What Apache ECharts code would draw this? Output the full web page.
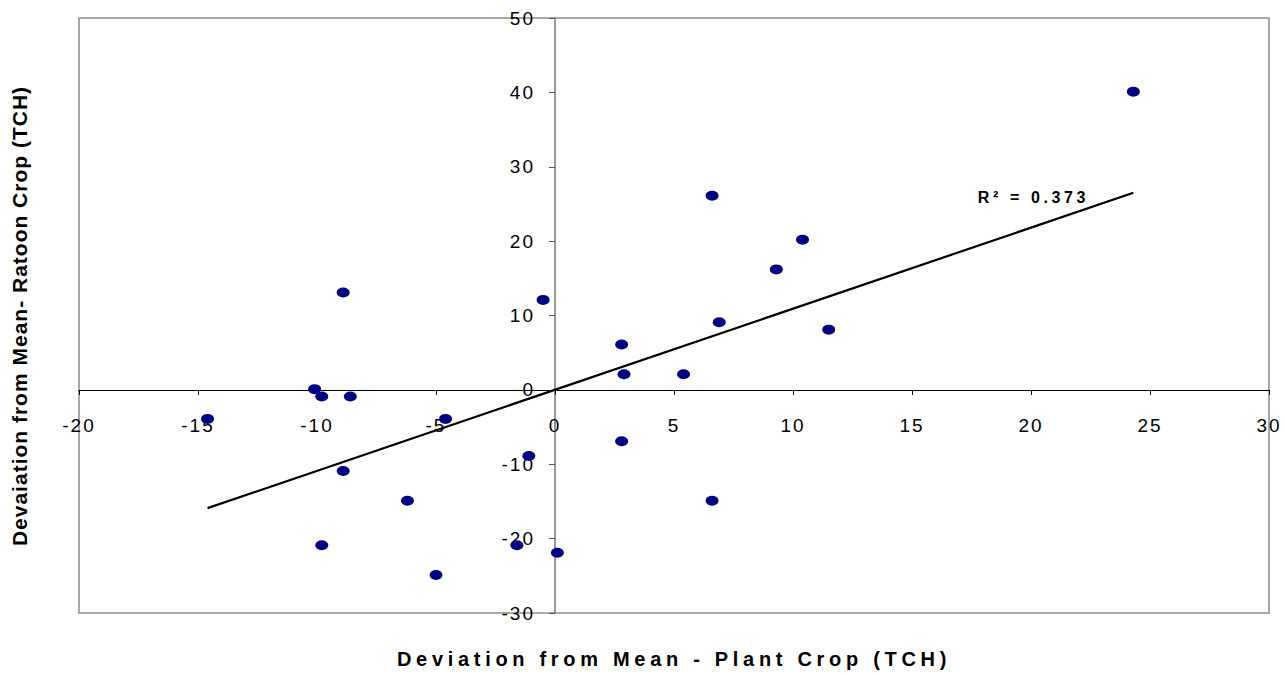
<!DOCTYPE html>
<html>
<head>
<meta charset="utf-8">
<script src="https://cdn.jsdelivr.net/npm/echarts@6/dist/echarts.min.js"></script>
<style>
    html, body { margin: 0; padding: 0; background: #fff; }
    #scatter_chart { width: 1284px; height: 673px; }
</style>
</head>
<body>
<div id="scatter_chart"></div>
<script>
// deviation from mean
var plantDev = [24.3, 6.6, 10.4, 9.3, 6.9, 11.5, -0.5, -8.9, 2.8, 2.9, 5.4, 2.8, 6.6,
    -10.1, -9.8, -8.6, -14.6, -4.6, -1.1, -8.9, -6.2, -9.8, -1.6, 0.1, -5.0];
var ratoonDev = [40.1, 26.1, 20.2, 16.2, 9.1, 8.1, 12.1, 13.1, 6.1, 2.1, 2.1, -6.9, -14.9,
    0.1, -0.9, -0.9, -3.9, -3.9, -8.9, -10.9, -14.9, -20.9, -20.9, -21.9, -24.9];

// linear trend line end points
var trendX = [-14.6, 24.3];
var trendY = [-15.9, 26.5];
var rSquared = '0.373';

var xRange = [-20, 30];
var yRange = [-30, 50];

var xTitle = 'Deviation from Mean - Plant Crop (TCH)';
var yTitle = 'Devaiation from Mean- Ratoon Crop (TCH)';
var rLabel = 'R\u00b2 = ' + rSquared;

var font = 'Liberation Sans';

var points = [];
for (var i = 0; i < plantDev.length; i++) {
    points.push([plantDev[i], ratoonDev[i]]);
}
var trend = [];
for (var j = 0; j < trendX.length; j++) {
    trend.push([trendX[j], trendY[j]]);
}

var grid = {left: 79, right: 15, top: 18, bottom: 60};
var plotW = 1284 - grid.left - grid.right;
var plotH = 673 - grid.top - grid.bottom;
// axes cross at zero, move the axes (and their labels) in from the grid edge
var xAxisOffset = -plotH * (0 - yRange[0]) / (yRange[1] - yRange[0]);
var yAxisOffset = -plotW * (0 - xRange[0]) / (xRange[1] - xRange[0]);

var chart = echarts.init(document.getElementById('scatter_chart'), null, {renderer: 'svg'});

var options = {
    animation: false,
    backgroundColor: '#fff',
    grid: {
        left: grid.left,
        right: grid.right,
        top: grid.top,
        bottom: grid.bottom,
        show: true,
        borderColor: '#8c8c8c',
        borderWidth: 1.5
    },
    xAxis: {
        type: 'value',
        min: xRange[0],
        max: xRange[1],
        interval: 5,
        position: 'bottom',
        offset: xAxisOffset,
        axisLine: {show: true, onZero: false, lineStyle: {color: '#000', width: 1.2}},
        axisTick: {show: true, length: 5, lineStyle: {color: '#000'}},
        axisLabel: {margin: 26, color: '#000', fontSize: 19, fontFamily: font},
        splitLine: {show: false}
    },
    yAxis: {
        type: 'value',
        min: yRange[0],
        max: yRange[1],
        interval: 10,
        position: 'left',
        offset: yAxisOffset,
        axisLine: {show: true, onZero: false, lineStyle: {color: '#777', width: 1.5}},
        axisTick: {show: true, length: 6, lineStyle: {color: '#555'}},
        axisLabel: {margin: 20, color: '#000', fontSize: 19, fontFamily: font},
        splitLine: {show: false}
    },
    graphic: [{
        type: 'text',
        x: 674,
        y: 659,
        style: {
            text: xTitle,
            fill: '#000',
            font: 'bold 20px "' + font + '"',
            textAlign: 'center',
            textVerticalAlign: 'middle'
        }
    }, {
        type: 'text',
        x: 19,
        y: 316,
        rotation: Math.PI / 2,
        style: {
            text: yTitle,
            fill: '#000',
            font: 'bold 21px "' + font + '"',
            textAlign: 'center',
            textVerticalAlign: 'middle'
        }
    }],
    series: [{
        type: 'scatter',
        data: points,
        symbol: 'path://M-1,0a1,1 0 1,0 2,0a1,1 0 1,0 -2,0',
        symbolSize: [13, 10],
        itemStyle: {color: '#000080', opacity: 1},
        z: 3
    }, {
        type: 'line',
        data: trend,
        symbol: 'none',
        silent: true,
        lineStyle: {color: '#000', width: 2.2},
        z: 2,
        markPoint: {
            symbol: 'circle',
            symbolSize: 0,
            data: [{coord: [20.1, 25.9]}],
            label: {
                show: true,
                position: 'inside',
                formatter: rLabel,
                fontSize: 16,
                fontWeight: 'bold',
                color: '#000',
                fontFamily: font
            }
        }
    }]
};

chart.setOption(options);

// the original uses spaced-out lettering
function spaceLetters() {
    var texts = document.querySelectorAll('#scatter_chart text');
    for (var k = 0; k < texts.length; k++) {
        var t = texts[k];
        if (t.textContent === xTitle) {
            t.style.letterSpacing = '4.7px';
        } else if (t.textContent === yTitle) {
            t.style.letterSpacing = '1px';
        } else if (t.textContent === rLabel) {
            t.style.letterSpacing = '3.6px';
        } else {
            t.style.letterSpacing = '2px';
        }
    }
}
chart.on('finished', spaceLetters);
spaceLetters();
</script>
</body>
</html>
